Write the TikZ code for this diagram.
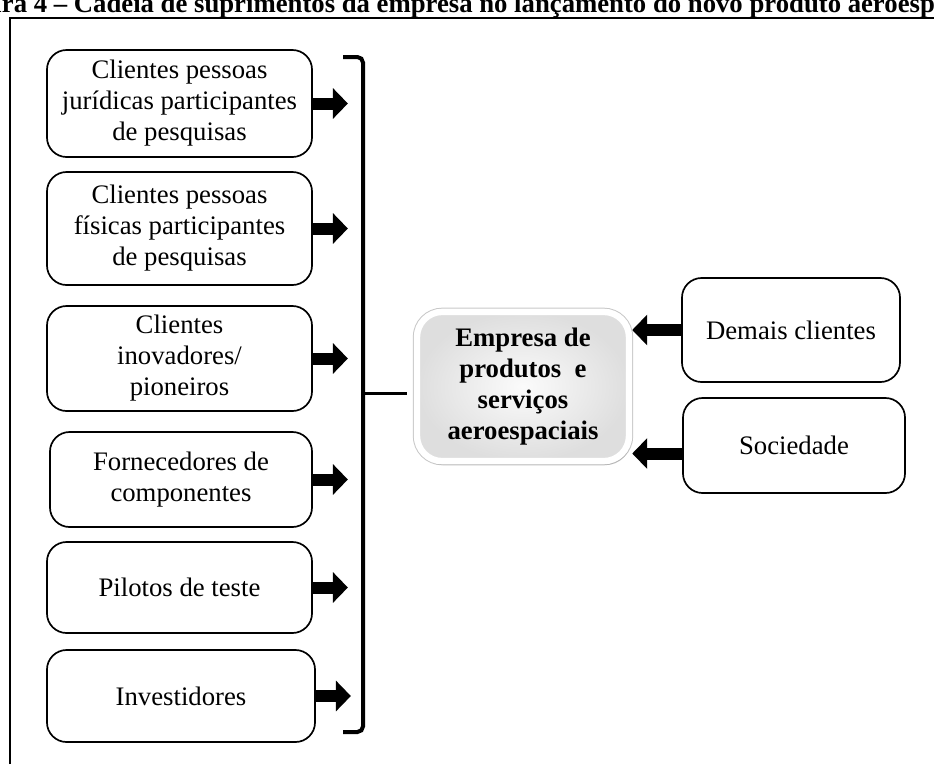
\documentclass[tikz,border=0pt]{standalone}
\usepackage{fontspec}
\setmainfont{Liberation Serif}
\usetikzlibrary{arrows.meta, positioning, shadows}
\definecolor{colEdge}{RGB}{200, 200, 200}
\definecolor{colFill}{RGB}{222, 222, 222}

\begin{document}
\begin{tikzpicture}[x=0.025cm, y=-0.025cm,
    every node/.style={font=\fontsize{19}{22}\selectfont},
    caixa/.style={draw=black, line width=1.2pt, rounded corners=14pt, fill=white, align=center, inner sep=2pt},
    central/.style={rounded corners=18pt, inner color=gray!3, outer color=colFill, draw=white, line width=0.16cm,
        preaction={draw=colEdge, line width=0.21cm}, drop shadow={opacity=0.25, shadow xshift=0.5mm, shadow yshift=-1mm},
        align=center, font=\bfseries\fontsize{19}{22}\selectfont, minimum width=5.3cm, minimum height=3.73cm},
    seta/.style={line width=0.3cm, -{Triangle[length=0.375cm, width=0.75cm]}},
    chave/.style={line width=0.1cm, rounded corners=4pt}
]
    \useasboundingbox (0,0) rectangle (934,764);
    \clip (0,0) rectangle (934,764);

    % --- Titulo e moldura ---
    \node[anchor=base west, font=\bfseries\fontsize{19}{22}\selectfont] (titulo) at (-55,12)
        {Figura 4 -- Cadeia de suprimentos da empresa no lançamento do novo produto aeroespacial};
    \draw[line width=1.4pt] (10,764) -- (10,18) -- (934,18);

    % --- Caixas da esquerda ---
    \node[caixa, minimum width=6.625cm, minimum height=2.675cm] (pj) at (179.5,103.5)
        {Clientes pessoas\\jurídicas participantes\\de pesquisas};
    \node[caixa, minimum width=6.625cm, minimum height=2.825cm] (pf) at (179.5,228.5)
        {Clientes pessoas\\físicas participantes\\de pesquisas};
    \node[caixa, minimum width=6.625cm, minimum height=2.625cm] (inov) at (179.5,358.5)
        {Clientes\\inovadores/\\pioneiros};
    \node[caixa, minimum width=6.55cm, minimum height=2.375cm] (forn) at (181,479.5)
        {Fornecedores de\\componentes};
    \node[caixa, minimum width=6.625cm, minimum height=2.275cm] (pil) at (179.5,587.5)
        {Pilotos de teste};
    \node[caixa, minimum width=6.7cm, minimum height=2.3cm] (inv) at (181,696)
        {Investidores};

    % Setas para a chave
    \foreach \n in {pj, pf, inov, forn, pil, inv}
        \draw[seta] (\n.east) -- ++(35,0);

    % --- Chave ---
    \draw[chave] (343,57) -- (363,57) -- (363,732) -- (343,732);
    \draw[line width=0.075cm] (363,393) -- (407,393);

    % --- Empresa (centro) ---
    \node[central] (emp) at (523,386.5)
        {Empresa de\\produtos\ \ e\\serviços\\aeroespaciais};

    % --- Caixas da direita ---
    \node[caixa, minimum width=5.45cm, minimum height=2.6cm] (dem) at (791,330) {Demais clientes};
    \node[caixa, minimum width=5.55cm, minimum height=2.375cm] (soc) at (794,445.5) {Sociedade};

    \draw[seta] (dem.west) -- (dem.west -| emp.east);
    \draw[seta] ([yshift=-0.2cm]soc.west) -- ([yshift=-0.2cm]soc.west -| emp.east);

\end{tikzpicture}
\end{document}
